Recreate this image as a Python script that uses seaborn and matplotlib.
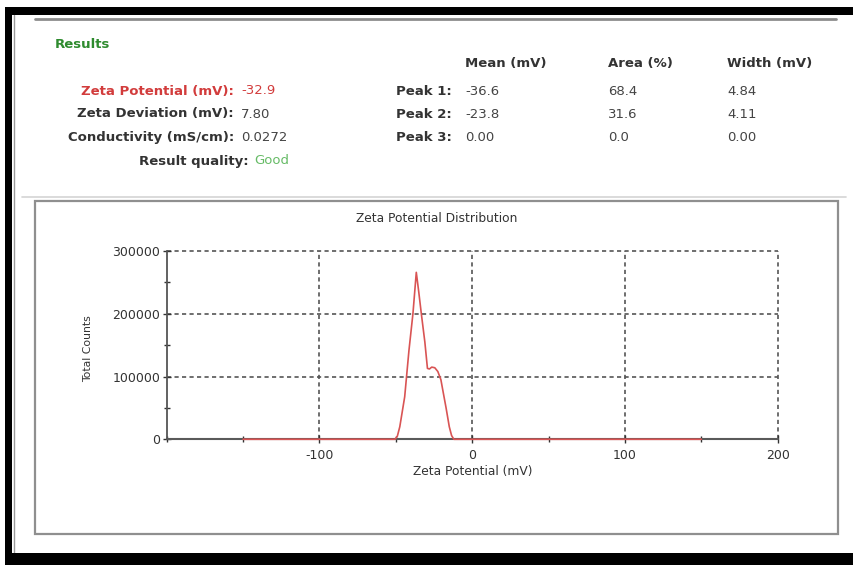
import matplotlib
matplotlib.use("Agg")
import matplotlib.pyplot as plt
from matplotlib.patches import Rectangle
from matplotlib.lines import Line2D
from matplotlib.ticker import MultipleLocator, FixedLocator
import seaborn as sns
import pandas as pd

# Zeta potential distribution (mV vs total counts)
zeta_mv = [-150, -50.6, -49.0, -47.4, -44.2, -41.4, -38.8, -36.6, -35.0, -33.3,
           -31.0, -29.3, -28.0, -26.5, -24.5, -22.5, -20.5, -19.0, -17.1, -15.0,
           -13.5, -12.0, 150]
total_counts = [0, 0, 5000, 20000, 67600, 141700, 200000, 266000, 235000, 200000,
                155000, 113000, 112000, 115000, 114000, 108000, 95000, 75000, 50000, 20000,
                6000, 0, 0]

x_ticks = [-100, 0, 100, 200]
y_ticks = [0, 100000, 200000, 300000]

# Summary table
summary_labels = ["Zeta Potential (mV):", "Zeta Deviation (mV):", "Conductivity (mS/cm):"]
summary_values = ["-32.9", "7.80", "0.0272"]
quality_label = "Result quality:"
quality_value = "Good"

peak_names = ["Peak 1:", "Peak 2:", "Peak 3:"]
peak_headers = ["Mean (mV)", "Area (%)", "Width (mV)"]
peak_mean = ["-36.6", "-23.8", "0.00"]
peak_area = ["68.4", "31.6", "0.0"]
peak_width = ["4.84", "4.11", "0.00"]

sns.set_theme(style="white")
plt.rcParams["font.family"] = ["DejaVu Sans"]

W, H = 854, 565
fig = plt.figure(figsize=(W / 100, H / 100), dpi=100)
fig.patch.set_facecolor("white")


def fx(x):
    return x / W


def fy(y):
    return 1 - y / H


# Outer dark frame
for (x0, y0, w, h) in [(5, 7, W - 5, 8), (5, 7, 7, H - 7), (5, 553, W - 5, 12)]:
    fig.add_artist(Rectangle((fx(x0), fy(y0 + h)), w / W, h / H, transform=fig.transFigure,
                             facecolor="black", edgecolor="none", zorder=5))
fig.add_artist(Line2D([fx(14), fx(14)], [fy(15), fy(553)], transform=fig.transFigure,
                      color="#9a9a9a", lw=1.0))
fig.add_artist(Line2D([fx(35), fx(836)], [fy(19), fy(19)], transform=fig.transFigure,
                      color="#8c8c8c", lw=2.0))
fig.add_artist(Line2D([fx(22), fx(846)], [fy(197), fy(197)], transform=fig.transFigure,
                      color="#d4d4d4", lw=1.2))

# Chart panel frame
fig.add_artist(Rectangle((fx(35), fy(534)), (838 - 35) / W, (534 - 201) / H,
                         transform=fig.transFigure, facecolor="none",
                         edgecolor="#8f8f8f", lw=1.6))

# Results header block
txt = "#333333"
fig.text(fx(55), fy(44), "Results", color="#2e8b2e", fontsize=9.5, fontweight="bold",
         ha="left", va="center")
rows_y = [91, 114, 137]
for i, (lab, val) in enumerate(zip(summary_labels, summary_values)):
    col = "#d23c3c" if i == 0 else txt
    fig.text(fx(234), fy(rows_y[i]), lab, color=col, fontsize=9.5, fontweight="bold",
             ha="right", va="center")
    fig.text(fx(241), fy(rows_y[i]), val, color=col if i == 0 else "#444444", fontsize=9.5,
             ha="left", va="center")
fig.text(fx(249), fy(161), quality_label, color=txt, fontsize=9.5, fontweight="bold",
         ha="right", va="center")
fig.text(fx(254), fy(161), quality_value, color="#66bb66", fontsize=9.5,
         ha="left", va="center")

col_x = [465, 608, 727]
for cx, hdr in zip(col_x, peak_headers):
    fig.text(fx(cx), fy(64), hdr, color=txt, fontsize=9.5, fontweight="bold",
             ha="left", va="center")
peak_rows_y = [92, 115, 137]
for i, name in enumerate(peak_names):
    fig.text(fx(452), fy(peak_rows_y[i]), name, color=txt, fontsize=9.5, fontweight="bold",
             ha="right", va="center")
    for cx, col in zip(col_x, [peak_mean, peak_area, peak_width]):
        fig.text(fx(cx), fy(peak_rows_y[i]), col[i], color="#444444", fontsize=9.5,
                 ha="left", va="center")

# Distribution plot
ax = fig.add_axes([fx(166.7), fy(439.3), (777.7 - 166.7) / W, (439.3 - 251) / H])
df = pd.DataFrame({"Zeta Potential (mV)": zeta_mv, "Total Counts": total_counts})
ax.axhline(0, color="#5a5a5a", lw=1.5, zorder=1, clip_on=False)
sns.lineplot(data=df, x="Zeta Potential (mV)", y="Total Counts", ax=ax, sort=False,
             estimator=None, color="#d95454", lw=1.2, zorder=3)
for ln in ax.get_lines():
    ln.set_clip_on(False)

ax.set_xlim(-200, 200)
ax.set_ylim(0, 300000)
ax.xaxis.set_major_locator(FixedLocator(x_ticks))
ax.yaxis.set_major_locator(FixedLocator(y_ticks))
ax.xaxis.set_minor_locator(MultipleLocator(50))
ax.yaxis.set_minor_locator(MultipleLocator(50000))
ax.set_xticklabels([str(v) for v in x_ticks])
ax.set_yticklabels([str(v) for v in y_ticks])
ax.grid(True, which="major", color="#555555", lw=1.2, linestyle=(0, (2.5, 2)))
for gl in ax.get_xgridlines() + ax.get_ygridlines():
    gl.set_clip_on(False)
ax.set_axisbelow(True)

for side in ["top", "right"]:
    ax.spines[side].set_visible(False)
ax.spines["left"].set_color("#555555")
ax.spines["left"].set_linewidth(1.3)
ax.spines["bottom"].set_visible(False)

ax.tick_params(which="both", direction="inout", color="#333333", width=1.0,
               left=True, bottom=True)
ax.tick_params(which="major", length=6)
ax.tick_params(which="minor", length=5)
ax.tick_params(axis="y", which="major", labelsize=9, labelcolor="#333333", pad=1.5)
ax.tick_params(axis="x", which="major", labelsize=9, labelcolor="#333333", pad=4)
ax.set_xlabel("")
ax.set_ylabel("")
ax.set_facecolor("white")

fig.text(fx(436.5), fy(218), "Zeta Potential Distribution", color=txt, fontsize=8.8,
         ha="center", va="center")
fig.text(fx(472.5), fy(472), "Zeta Potential (mV)", color=txt, fontsize=8.8,
         ha="center", va="center")
fig.text(fx(88), fy(349), "Total Counts", color=txt, fontsize=7.8, rotation=90,
         ha="center", va="center")

fig.savefig("out.png", dpi=100)
